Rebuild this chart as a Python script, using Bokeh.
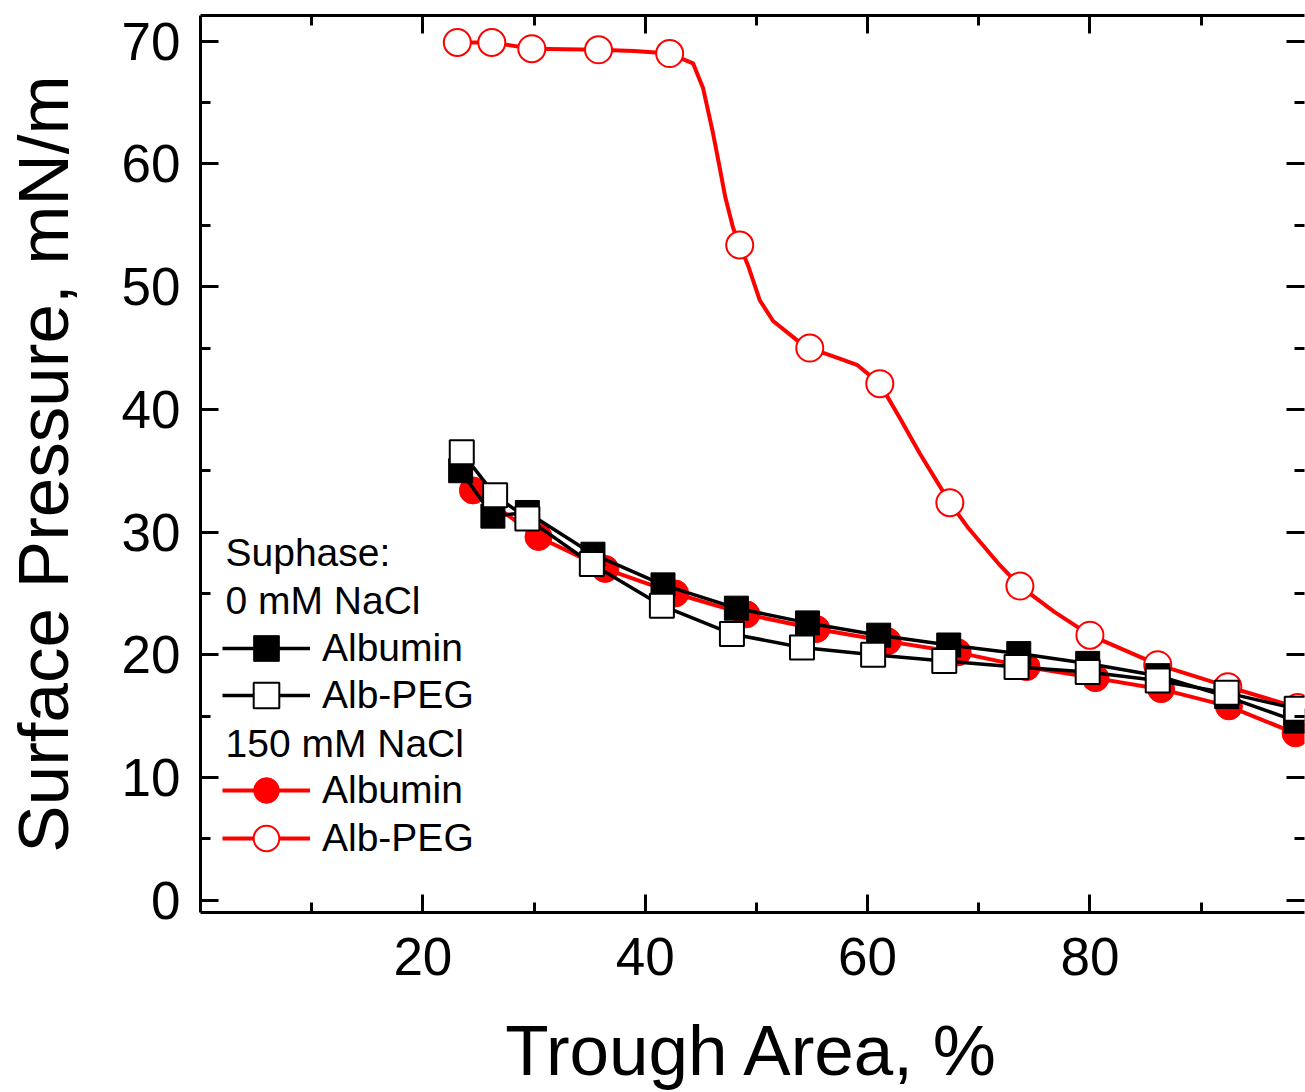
from bokeh.plotting import figure
from bokeh.models import LinearAxis, FixedTicker, Legend, LegendItem, Label, Range1d
from bokeh.embed import file_html
from bokeh.resources import INLINE

# ---------------- data ----------------
# 0 mM NaCl, Albumin (filled black squares)
alb0_x = [23.4, 26.3, 29.4, 35.3, 41.6, 48.2, 54.6, 61.0, 67.3, 73.6, 79.8, 86.1, 92.3, 98.5]
alb0_y = [35.0, 31.3, 31.6, 28.2, 25.7, 23.8, 22.6, 21.6, 20.8, 20.1, 19.3, 18.3, 16.6, 14.6]

# 0 mM NaCl, Alb-PEG (open black squares)
peg0_x = [23.5, 26.5, 29.4, 35.2, 41.5, 47.8, 54.1, 60.5, 66.9, 73.4, 79.8, 86.1, 92.3, 98.6]
peg0_y = [36.5, 33.0, 31.1, 27.4, 24.0, 21.7, 20.6, 20.0, 19.5, 19.0, 18.6, 17.9, 16.9, 15.6]

# 150 mM NaCl, Albumin (filled red circles)
alb150_x = [24.5, 30.4, 36.4, 42.7, 49.1, 55.4, 61.8, 68.1, 74.3, 80.5, 86.4, 92.5, 98.5]
alb150_y = [33.4, 29.6, 27.0, 25.0, 23.3, 22.1, 21.1, 20.2, 19.0, 18.1, 17.2, 15.8, 13.6]

# 150 mM NaCl, Alb-PEG (open red circles) - marker points
peg150_x = [23.1, 26.2, 29.8, 35.8, 42.2, 48.5, 54.8, 61.1, 67.4, 73.7, 80.0, 86.1, 92.4, 98.7]
peg150_y = [69.9, 69.9, 69.4, 69.3, 69.0, 53.4, 45.0, 42.1, 32.4, 25.6, 21.6, 19.2, 17.4, 15.7]

peg150_curve_x = [23.1, 26.2, 29.8, 35.8, 39.0, 42.2, 44.3, 45.2, 46.1, 46.7, 47.2, 47.9, 48.5,
                  49.3, 50.3, 51.5, 53.7, 54.8, 57.3, 59.1, 61.1, 62.9, 64.7, 67.4, 69.0, 71.9,
                  73.7, 76.8, 80.0, 86.1, 92.4, 98.7]
peg150_curve_y = [69.9, 69.9, 69.4, 69.3, 69.2, 69.0, 68.2, 66.2, 62.5, 59.7, 57.3, 54.8, 53.4,
                  51.6, 48.9, 47.2, 45.6, 45.0, 44.2, 43.6, 42.1, 39.3, 36.4, 32.4, 30.4, 27.3,
                  25.6, 23.5, 21.6, 19.2, 17.4, 15.7]

x_major_ticks = [20, 40, 60, 80]
x_minor_ticks = [10, 30, 50, 70, 90]
y_major_ticks = [0, 10, 20, 30, 40, 50, 60, 70]
y_minor_ticks = [5, 15, 25, 35, 45, 55, 65]

x_label = "Trough Area, %"
y_label = "Surface Pressure, mN/m"
header_texts = ["Suphase:", "0 mM NaCl", "150 mM NaCl"]
series_names = ["Albumin", "Alb-PEG"]

FONT = "Liberation Sans"
RED = "#FF0000"

# ---------------- figure ----------------
p = figure(width=1305, height=1092,
           x_range=Range1d(0, 99.3), y_range=Range1d(-1.0, 72.1),
           output_backend="svg", toolbar_location=None,
           min_border_left=200, min_border_right=1, min_border_top=15, min_border_bottom=180)
p.xgrid.visible = False
p.ygrid.visible = False
p.outline_line_color = None
p.background_fill_color = "white"
p.border_fill_color = "white"


def style_axis(ax, major, minor, labels=True):
    ax.ticker = FixedTicker(ticks=major, minor_ticks=minor)
    ax.axis_line_width = 3
    ax.axis_line_color = "black"
    ax.major_tick_line_width = 3
    ax.minor_tick_line_width = 3
    ax.major_tick_in = 18
    ax.major_tick_out = 0
    ax.minor_tick_in = 10
    ax.minor_tick_out = 0
    ax.major_tick_line_color = "black"
    ax.minor_tick_line_color = "black"
    if labels:
        ax.major_label_text_font = FONT
        ax.major_label_text_font_size = "53px"
        ax.major_label_text_color = "black"
        ax.axis_label_text_font = FONT
        ax.axis_label_text_font_size = "71px"
        ax.axis_label_text_font_style = "normal"
        ax.axis_label_text_color = "black"
    else:
        # mirror axis: ticks only, no labels drawn
        ax.major_label_text_font_size = "0px"
        ax.major_label_text_color = None
        ax.major_label_standoff = 0
        ax.axis_label = None


xb = p.xaxis[0]
style_axis(xb, x_major_ticks, x_minor_ticks)
xb.axis_label = x_label
xb.major_label_standoff = 25
xb.axis_label_standoff = 33

yl = p.yaxis[0]
style_axis(yl, y_major_ticks, y_minor_ticks)
yl.axis_label = y_label
yl.major_label_standoff = 20
yl.axis_label_standoff = 36

xt = LinearAxis()
style_axis(xt, x_major_ticks, x_minor_ticks, labels=False)
p.add_layout(xt, "above")

yr = LinearAxis()
style_axis(yr, y_major_ticks, y_minor_ticks, labels=False)
yr.axis_line_color = None
p.add_layout(yr, "right")

# ---------------- data renderers ----------------
# 150 mM NaCl (drawn first, underneath)
l_alb150 = p.line(alb150_x, alb150_y, line_color=RED, line_width=4)
s_alb150 = p.scatter(alb150_x, alb150_y, marker="circle", size=27,
                     fill_color=RED, line_color=RED, line_width=1)
l_peg150 = p.line(peg150_curve_x, peg150_curve_y, line_color=RED, line_width=4)
s_peg150 = p.scatter(peg150_x, peg150_y, marker="circle", size=27,
                     fill_color="white", line_color=RED, line_width=2)

# 0 mM NaCl
l_alb0 = p.line(alb0_x, alb0_y, line_color="black", line_width=3.5)
s_alb0 = p.scatter(alb0_x, alb0_y, marker="square", size=24,
                   fill_color="black", line_color="black", line_width=1)
l_peg0 = p.line(peg0_x, peg0_y, line_color="black", line_width=3.5)
s_peg0 = p.scatter(peg0_x, peg0_y, marker="square", size=24,
                   fill_color="white", line_color="black", line_width=2)


# ---------------- legend (one entry per row, so rows can be spaced as in the reference) ----------------
def make_legend(item, loc):
    return Legend(items=[item], location=loc, orientation="vertical",
                  background_fill_alpha=0, border_line_color=None,
                  padding=0, margin=0, spacing=0,
                  glyph_width=88, glyph_height=64, label_standoff=12,
                  label_text_font=FONT, label_text_font_size="39px",
                  label_text_color="black")


legend_rows = [
    (LegendItem(label=series_names[0], renderers=[l_alb0, s_alb0]), (22, 232)),
    (LegendItem(label=series_names[1], renderers=[l_peg0, s_peg0]), (22, 185)),
    (LegendItem(label=series_names[0], renderers=[l_alb150, s_alb150]), (22, 90)),
    (LegendItem(label=series_names[1], renderers=[l_peg150, s_peg150]), (22, 42)),
]
for item, loc in legend_rows:
    p.add_layout(make_legend(item, loc), "center")

for txt, yy in zip(header_texts, [360, 312, 169]):
    p.add_layout(Label(x=25, y=yy, x_units="screen", y_units="screen", text=txt,
                       text_font=FONT, text_font_size="39px", text_color="black",
                       text_align="left", text_baseline="middle"))

open("out.html", "w").write(file_html(p, INLINE))
